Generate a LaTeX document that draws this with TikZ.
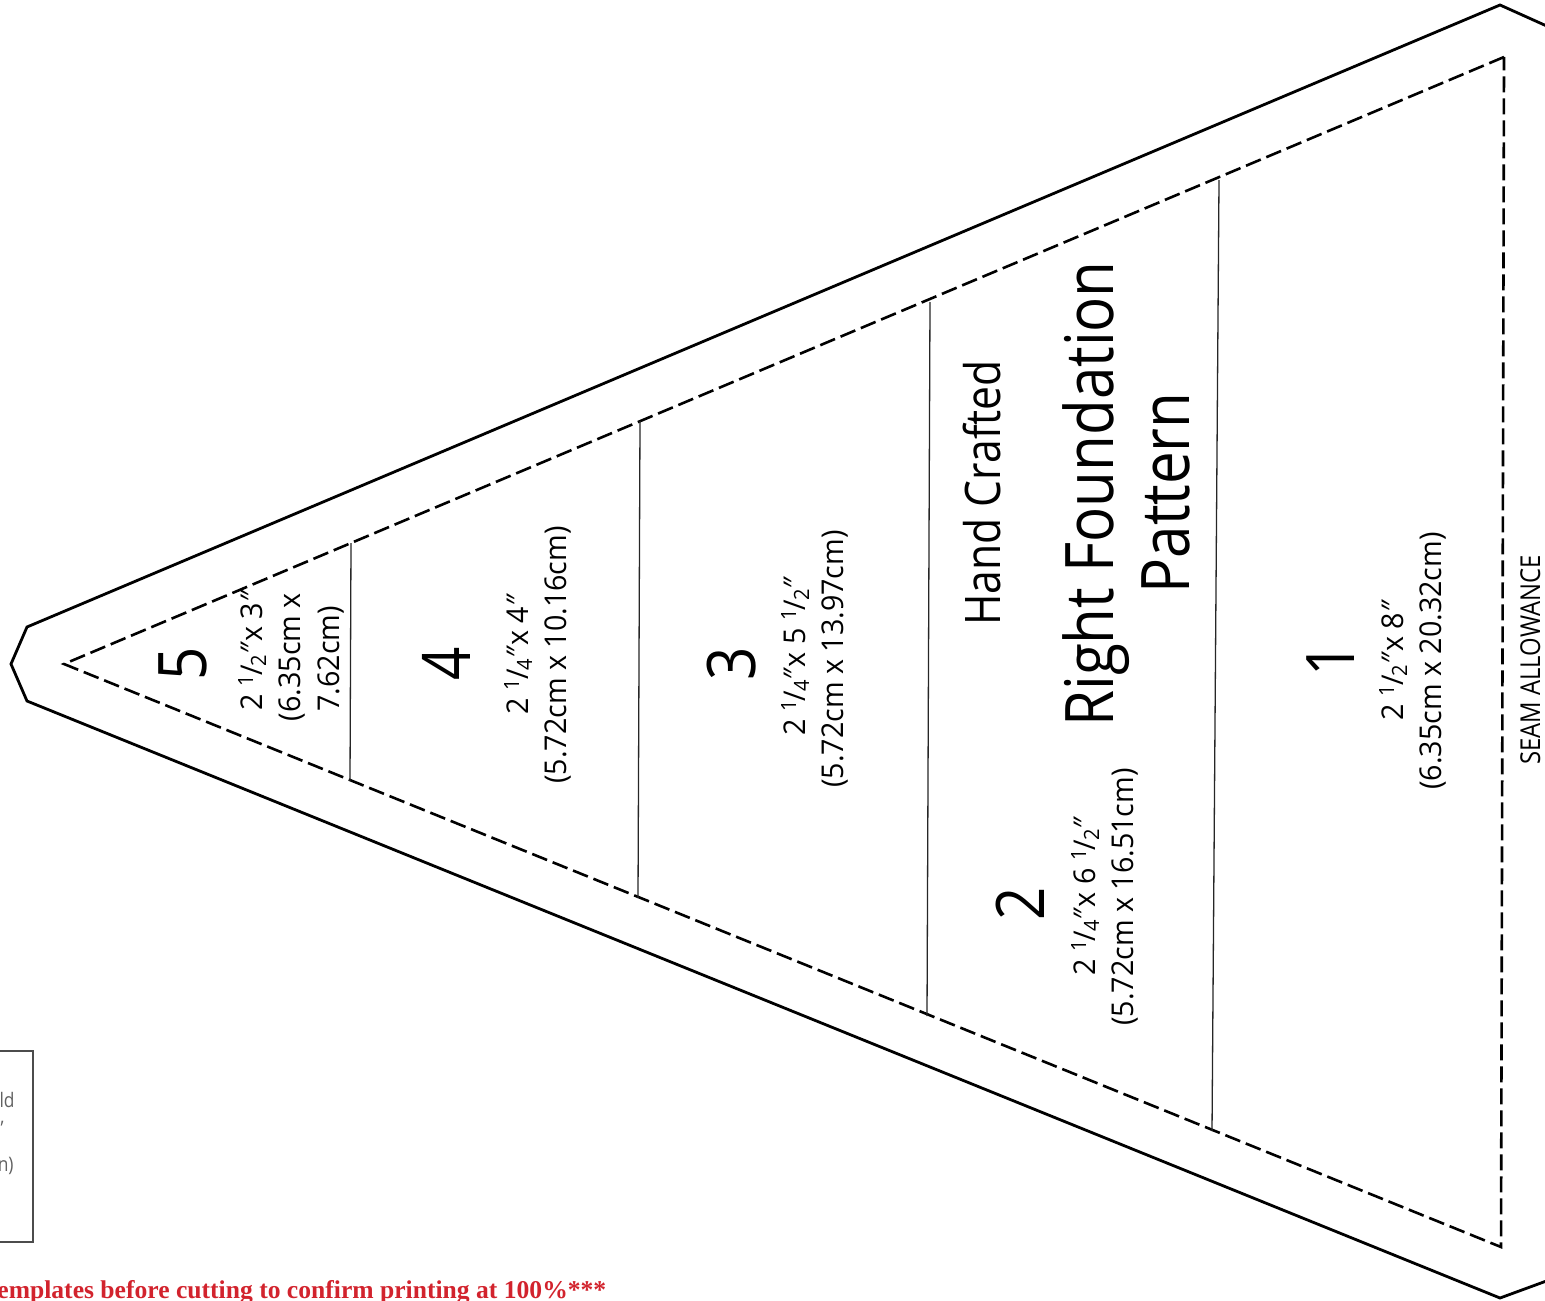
\documentclass[tikz,border=0pt]{standalone}
\usepackage{fontspec}
\usepackage{graphicx}
\setmainfont[FakeStretch=0.87]{Open Sans}
\newfontfamily\labelfont[FakeStretch=0.955]{Open Sans}
\newfontfamily\redfont{Liberation Serif}
\newcommand\fr[2]{\raisebox{.3em}{\scalebox{.7}{#1}}\kern-.03em/\kern-.03em\raisebox{-.14em}{\scalebox{.7}{#2}}}
\newcommand\inch{\textit{″}}
\tikzset{
  x=0.5pt,y=-0.5pt,
  outline/.style={line width=1.4pt,black,line join=miter},
  seam/.style={line width=1.3pt,black,dash pattern=on 8pt off 3pt},
  fold/.style={line width=0.65pt,black!85},
  txt/.style={rotate=90,anchor=base,inner sep=0pt,font=\labelfont\fontsize{15}{18}\selectfont},
  digit/.style={rotate=90,anchor=base,inner sep=0pt,font=\fontsize{33.5}{40}\selectfont},
  mid/.style={rotate=90,anchor=base,inner sep=0pt,font=\fontsize{24.5}{30}\selectfont},
  big/.style={rotate=90,anchor=base,inner sep=0pt,font=\fontsize{33.5}{40}\selectfont},
  small/.style={rotate=90,anchor=base,inner sep=0pt,font=\fontsize{13.7}{17}\selectfont},
  legend/.style={anchor=base east,inner sep=0pt,text=black!62,font=\fontsize{10}{12}\selectfont},
}
\begin{document}
\begin{tikzpicture}
\useasboundingbox (0,0) rectangle (1545,1300);
% outer outline
\coordinate (o0) at (1560,32);
\coordinate (o1) at (1500,5);
\coordinate (o2) at (27,627);
\coordinate (o3) at (11,664);
\coordinate (o4) at (27,701);
\coordinate (o5) at (1500,1298);
\coordinate (o6) at (1560,1276);
\draw[outline] (o0) -- (o1) -- (o2) -- (o3) -- (o4) -- (o5) -- (o6);
% seam allowance
\coordinate (s1) at (1504,57);
\coordinate (s2) at (64,664);
\coordinate (s3) at (1501,1247);
\draw[seam] (s1) -- (s2) -- (s3) -- (s1);
% fold lines
\coordinate (a1) at (351,543); \coordinate (a2) at (350,781);
\coordinate (b1) at (640,421); \coordinate (b2) at (638,898);
\coordinate (c1) at (930,302); \coordinate (c2) at (927,1016);
\coordinate (d1) at (1219,180); \coordinate (d2) at (1212,1131);
\draw[fold] (a1) -- (a2);
\draw[fold] (b1) -- (b2);
\draw[fold] (c1) -- (c2);
\draw[fold] (d1) -- (d2);
% numbers
\node[digit] (n5) at (206,664) {5};
\node[digit] (n4) at (470,664) {4};
\node[digit] (n3) at (755,664) {3};
\node[digit] (n2) at (1044,904) {2};
\node[digit] (n1) at (1354,660) {1};
% piece 5
\node[txt] (t5a) at (262,650) {2 \fr{1}{2}\inch x 3\inch};
\node[txt] (t5b) at (300,657) {(6.35cm x};
\node[txt] (t5c) at (339,659) {7.62cm)};
% piece 4
\node[txt] (t4a) at (528,654) {2 \fr{1}{4}\inch x 4\inch};
\node[txt] (t4b) at (566,655) {(5.72cm x 10.16cm)};
% piece 3
\node[txt] (t3a) at (805,656) {2 \fr{1}{4}\inch x 5 \fr{1}{2}\inch};
\node[txt] (t3b) at (843,659) {(5.72cm x 13.97cm)};
% piece 2
\node[txt] (t2a) at (1095,896) {2 \fr{1}{4}\inch x 6 \fr{1}{2}\inch};
\node[txt] (t2b) at (1133,897) {(5.72cm x 16.51cm)};
% piece 1
\node[txt] (t1a) at (1403,660) {2 \fr{1}{2}\inch x 8\inch};
\node[txt] (t1b) at (1441,661) {(6.35cm x 20.32cm)};
% titles
\node[mid] (hc) at (1000,493) {Hand Crafted};
\node[big] (rf) at (1113,494) {Right Foundation};
\node[big] (pt) at (1189,493) {Pattern};
\node[small] (sa) at (1540,660) {SEAM ALLOWANCE};
% legend box, cut by the page edge
\coordinate (bx1) at (-10,1051);
\coordinate (bx2) at (33,1242);
\draw[black!70,line width=0.65pt] (bx1) rectangle (bx2);
\node[legend] (l1) at (15,1107) {ld};
\node[legend] (l2) at (4,1135) {'};
\node[legend] (l3) at (14,1171) {n)};
% warning
\node[anchor=base west,inner sep=0pt,text={rgb,255:red,210;green,35;blue,45},font=\redfont\bfseries\fontsize{12.8}{15}\selectfont] (warn) at (-3,1298) {emplates before cutting to confirm printing at 100\%***};
\end{tikzpicture}
\end{document}
